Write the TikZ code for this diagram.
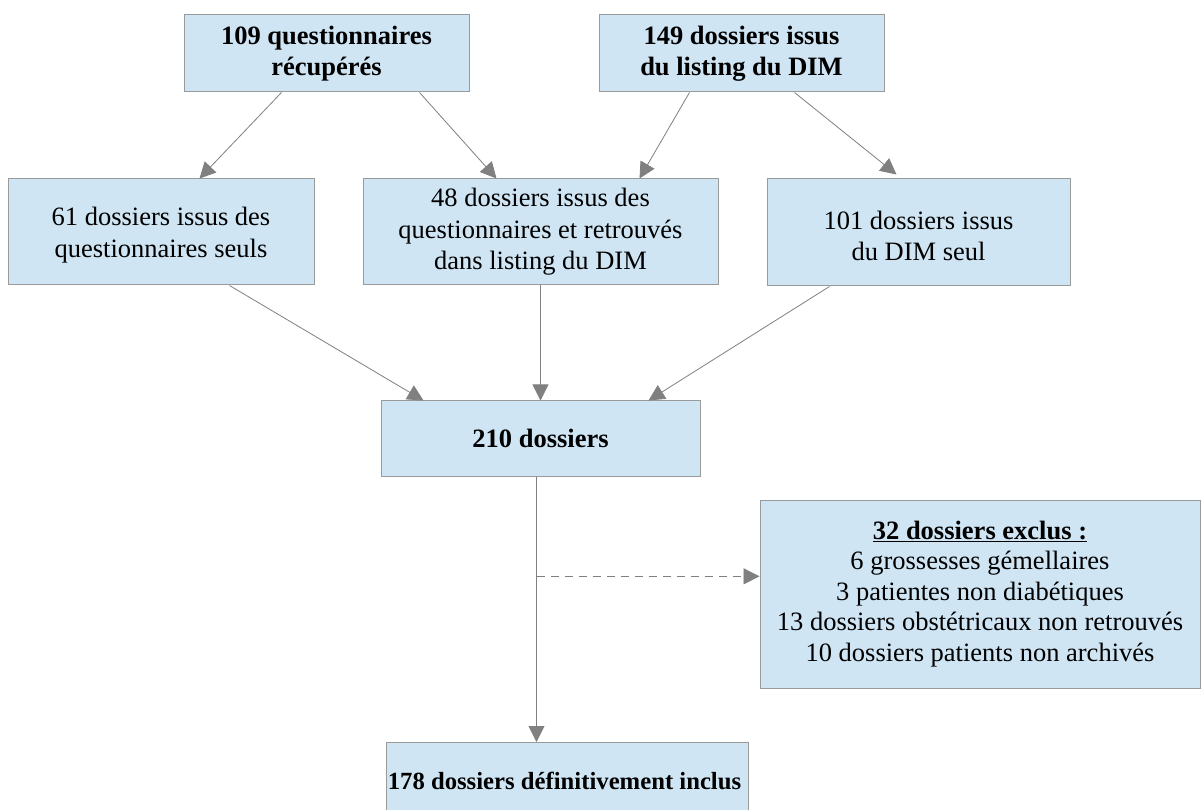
\documentclass[tikz,border=0pt]{standalone}
\usepackage{fontspec}
\setmainfont{Liberation Serif}
\usetikzlibrary{arrows.meta,calc}
\definecolor{boxfill}{HTML}{CFE5F3}
\definecolor{boxline}{HTML}{9A9A9A}
\definecolor{arrowcol}{HTML}{808080}
\begin{document}
\begin{tikzpicture}[x=1pt,y=-1pt,
  box/.style={draw=boxline,fill=boxfill,line width=1pt,inner sep=0pt,align=center,
    font=\fontsize{26.5}{31.5}\selectfont},
  conn/.style={draw=arrowcol,line width=0.8pt,-{Triangle[length=16pt,width=16pt]}},
]
\useasboundingbox (0,0) rectangle (1203,810);
\fill[white] (0,0) rectangle (1203,810);
% boxes
\node[box,minimum width=285pt,minimum height=77pt] (q) at (326.5,53.5) {\textbf{109 questionnaires}\\\textbf{récupérés}};
\node[box,minimum width=285pt,minimum height=77pt] (d) at (741.5,53.5) {\textbf{149 dossiers issus}\\\textbf{du listing du DIM}};
\node[box,minimum width=306pt,minimum height=106pt] (qs) at (161,232) {};
\node[font=\fontsize{26.5}{31.5}\selectfont,align=center] (qst) at (161,235) {61 dossiers issus des\\questionnaires seuls};
\node[box,minimum width=355pt,minimum height=106pt] (qd) at (540.5,232) {48 dossiers issus des\\questionnaires et retrouvés\\dans listing du DIM};
\node[box,minimum width=303pt,minimum height=107pt] (ds) at (918.5,232.5) {};
\node[font=\fontsize{26.5}{31.5}\selectfont,align=center] (dst) at (918.5,236) {101 dossiers issus\\du DIM seul};
\node[box,minimum width=319pt,minimum height=75pt] (t) at (540.5,438.5) {\textbf{210 dossiers}};
\node[box,minimum width=440pt,minimum height=188pt,font=\fontsize{26.5}{30.5}\selectfont] (ex) at (980,594) {\textbf{\underline{32 dossiers exclus :}}\\6 grossesses gémellaires\\3 patientes non diabétiques\\13 dossiers obstétricaux non retrouvés\\10 dossiers patients non archivés};
\node[box,minimum width=362pt,minimum height=78pt,anchor=north] (f) at (567,742) {};
\node[font=\fontsize{24.7}{30}\selectfont\bfseries] (ft) at (564.5,781) {178 dossiers définitivement inclus};
% connectors
\coordinate (q1) at ($(q.south west)+(98,0)$);
\coordinate (q2) at ($(q.south west)+(236,0)$);
\coordinate (d1) at ($(d.south west)+(91,0)$);
\coordinate (d2) at ($(d.south west)+(196,0)$);
\coordinate (qsin) at ($(qs.north west)+(192,0)$);
\coordinate (qdin1) at ($(qd.north west)+(134,0)$);
\coordinate (qdin2) at ($(qd.north west)+(277,0)$);
\coordinate (dsin) at ($(ds.north west)+(130,-4)$);
\draw[conn] (q1) -- (qsin);
\draw[conn] (q2) -- (qdin1);
\draw[conn] (d1) -- (qdin2);
\draw[conn] (d2) -- (dsin);
\coordinate (qsout) at ($(qs.south west)+(222,0)$);
\coordinate (dsout) at ($(ds.south west)+(63,0)$);
\coordinate (tin1) at ($(t.north west)+(43,0)$);
\coordinate (tin3) at ($(t.north west)+(268,0)$);
\draw[conn] (qsout) -- (tin1);
\draw[conn] (qd.south) -- (t.north);
\draw[conn] (dsout) -- (tin3);
\coordinate (tout) at ($(t.south west)+(156,0)$);
\coordinate (fin) at (tout |- f.north);
\draw[conn] (tout) -- (fin);
\coordinate (split) at ($(tout)!0.376!(fin)$);
\draw[conn,dashed,dash pattern=on 8pt off 6pt] (split) -- (split -| ex.west);
\end{tikzpicture}
\end{document}
